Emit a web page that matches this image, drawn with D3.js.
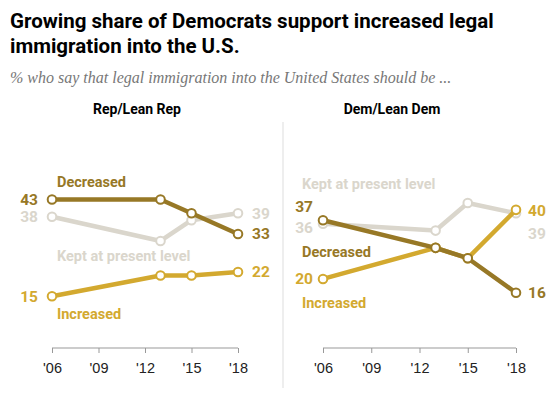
<!DOCTYPE html>
<html>
<head>
<meta charset="utf-8">
<script src="https://cdn.jsdelivr.net/npm/d3@7"></script>
<style>
  body { margin: 0; background: #fff; }
  svg text { font-family: Roboto, "Liberation Sans", sans-serif; }
</style>
</head>
<body>
<div id="chart"></div>
<script>
  // Survey years and the tick labels on the x axis
  const years = [2006, 2013, 2015, 2018];
  const tickYears = [2006, 2009, 2012, 2015, 2018];
  const tickLabels = ["'06", "'09", "'12", "'15", "'18"];

  // Rep/Lean Rep
  const repDecreased = [43, 43, 39, 33];
  const repKept = [38, 31, 37, 39];
  const repIncreased = [15, 21, 21, 22];

  // Dem/Lean Dem
  const demDecreased = [37, 29, 26, 16];
  const demKept = [36, 34, 42, 39];
  const demIncreased = [20, 29, 26, 40];

  const colors = {
    decreased: '#977826',
    kept: '#dad6cc',
    increased: '#d3a92f'
  };

  const width = 560, height = 395;
  const svg = d3.select('#chart').append('svg')
    .attr('width', width)
    .attr('height', height);

  // Title and subtitle
  svg.append('text')
    .attr('x', 10).attr('y', 28)
    .attr('font-size', 20.5).attr('font-weight', 'bold').attr('fill', '#000')
    .text('Growing share of Democrats support increased legal');
  svg.append('text')
    .attr('x', 10).attr('y', 53)
    .attr('font-size', 20.5).attr('font-weight', 'bold').attr('fill', '#000')
    .text('immigration into the U.S.');
  svg.append('text')
    .attr('x', 10).attr('y', 83)
    .attr('font-size', 16).attr('font-style', 'italic').attr('fill', '#777')
    .style('font-family', '"Liberation Serif", Georgia, serif')
    .text('% who say that legal immigration into the United States should be ...');

  // Divider between panels
  svg.append('line')
    .attr('x1', 283).attr('x2', 283)
    .attr('y1', 122).attr('y2', 388)
    .attr('stroke', '#ddd').attr('stroke-width', 1);

  const y = d3.scaleLinear().domain([0, 43]).range([348, 199.5]);

  const panels = [
    {
      title: 'Rep/Lean Rep', titleX: 137, range: [52, 238],
      series: [
        { key: 'kept', values: repKept,
          name: 'Kept at present level', nameX: 57, nameY: 261,
          first: { dx: -14, dy: 0, anchor: 'end' }, last: { dx: 14, dy: 0 } },
        { key: 'increased', values: repIncreased,
          name: 'Increased', nameX: 57, nameY: 319,
          first: { dx: -14, dy: 0, anchor: 'end' }, last: { dx: 14, dy: 0 } },
        { key: 'decreased', values: repDecreased,
          name: 'Decreased', nameX: 57, nameY: 187,
          first: { dx: -14, dy: 0, anchor: 'end' }, last: { dx: 14, dy: 0 } }
      ]
    },
    {
      title: 'Dem/Lean Dem', titleX: 392, range: [323, 516],
      series: [
        { key: 'kept', values: demKept,
          name: 'Kept at present level', nameX: 302, nameY: 189,
          first: { dx: -10, dy: 4, anchor: 'end' }, last: { dx: 12, dy: 20 } },
        { key: 'increased', values: demIncreased,
          name: 'Increased', nameX: 302, nameY: 308,
          first: { dx: -10, dy: 0, anchor: 'end' }, last: { dx: 12, dy: 1 } },
        { key: 'decreased', values: demDecreased,
          name: 'Decreased', nameX: 302, nameY: 257,
          first: { dx: -10, dy: -14, anchor: 'end' }, last: { dx: 12, dy: 0 } }
      ]
    }
  ];

  panels.forEach(function(p) {
    const x = d3.scaleLinear().domain([2006, 2018]).range(p.range);
    const g = svg.append('g');

    g.append('text')
      .attr('x', p.titleX).attr('y', 114)
      .attr('text-anchor', 'middle')
      .attr('font-size', 14).attr('font-weight', 'bold').attr('fill', '#000')
      .text(p.title);

    // x axis
    const axis = d3.axisBottom(x)
      .tickValues(tickYears)
      .tickSize(5)
      .tickFormat(function(d, i) { return tickLabels[i]; });
    const ax = g.append('g')
      .attr('transform', 'translate(0,348)')
      .call(axis);
    ax.select('.domain').attr('stroke', '#999').attr('d', 'M' + p.range[0] + ',0H' + p.range[1]);
    ax.selectAll('.tick line').attr('stroke', '#999');
    ax.selectAll('.tick text')
      .attr('y', 15)
      .attr('font-size', 14.5)
      .attr('fill', '#222')
      .style('font-family', '"Liberation Sans", Arial, sans-serif');

    const line = d3.line()
      .x(function(d, i) { return x(years[i]); })
      .y(function(d) { return y(d); });

    p.series.forEach(function(s) {
      const c = colors[s.key];
      g.append('path')
        .datum(s.values)
        .attr('d', line)
        .attr('fill', 'none')
        .attr('stroke', c)
        .attr('stroke-width', 4.5)
        .attr('stroke-linejoin', 'round');

      g.selectAll(null)
        .data(s.values)
        .enter()
        .append('circle')
        .attr('cx', function(d, i) { return x(years[i]); })
        .attr('cy', function(d) { return y(d); })
        .attr('r', 4.3)
        .attr('fill', '#fff')
        .attr('stroke', c)
        .attr('stroke-width', 2);

      // series name
      g.append('text')
        .attr('x', s.nameX).attr('y', s.nameY)
        .attr('font-size', 14.5).attr('font-weight', 'bold')
        .attr('fill', c)
        .text(s.name);

      // first and last value labels
      const n = s.values.length;
      g.append('text')
        .attr('x', x(years[0]) + s.first.dx)
        .attr('y', y(s.values[0]) + s.first.dy)
        .attr('dy', '0.35em')
        .attr('text-anchor', s.first.anchor)
        .attr('font-size', 15.5).attr('font-weight', 'bold')
        .attr('fill', c)
        .text(s.values[0]);
      g.append('text')
        .attr('x', x(years[n - 1]) + s.last.dx)
        .attr('y', y(s.values[n - 1]) + s.last.dy)
        .attr('dy', '0.35em')
        .attr('font-size', 15.5).attr('font-weight', 'bold')
        .attr('fill', c)
        .text(s.values[n - 1]);
    });
  });
</script>
</body>
</html>
